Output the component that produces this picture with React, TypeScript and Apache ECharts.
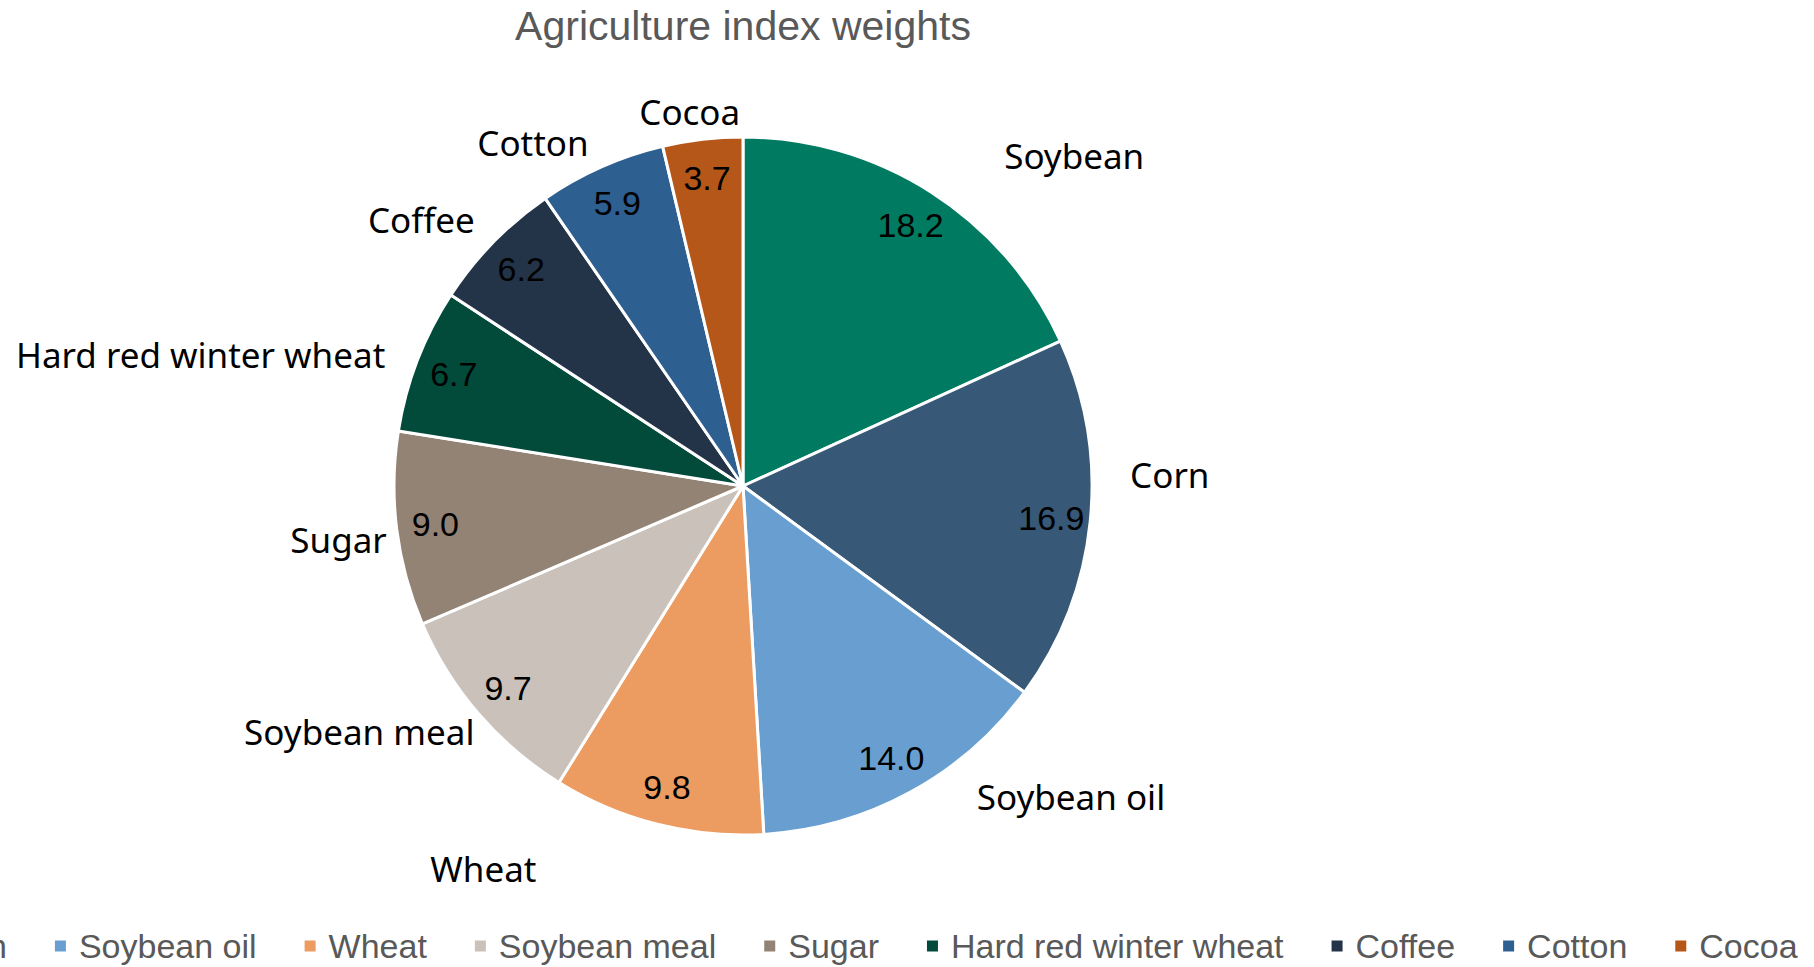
import React, { useEffect, useRef } from "react";
import * as echarts from "echarts";

const TITLE = "Agriculture index weights";
const categories = [
  "Soybean",
  "Corn",
  "Soybean oil",
  "Wheat",
  "Soybean meal",
  "Sugar",
  "Hard red winter wheat",
  "Coffee",
  "Cotton",
  "Cocoa",
];
const weights = [18.2, 16.9, 14.0, 9.8, 9.7, 9.0, 6.7, 6.2, 5.9, 3.7];
const colors = [
  "#007B61",
  "#375876",
  "#699FD0",
  "#EC9B61",
  "#C9C1BA",
  "#938374",
  "#024B3A",
  "#233449",
  "#2E5F91",
  "#B45718",
];
// label nudges (style only) to mimic the spreadsheet's best-fit placement
const nameLabelNudges: [number, number][] = [
  [61, -27],
  [23, -48],
  [56, -6],
  [-113, 33],
  [10, 10],
  [7, 9],
  [-16, -1],
  [-5, -14],
  [-3, -13],
  [44, -16],
];

const CENTER = [743, 486];
const R = 349;

export default function App() {
  const ref = useRef<HTMLDivElement>(null);
  useEffect(() => {
    if (!ref.current) return;
    const chart = echarts.init(ref.current, null, { renderer: "svg" });
    const data = categories.map((name, i) => ({
      name,
      value: weights[i],
      itemStyle: { color: colors[i] },
    }));
    chart.setOption({
      animation: false,
      backgroundColor: "#ffffff",
      title: {
        text: TITLE,
        left: 743,
        top: 5,
        padding: 0,
        textAlign: "center",
        textStyle: {
          fontFamily: "Liberation Sans, Arial, sans-serif",
          fontSize: 41,
          fontWeight: "normal",
          color: "#595959",
        },
      },
      legend: {
        data: categories,
        orient: "horizontal",
        left: -299,
        top: 929,
        width: 2600,
        padding: 0,
        itemWidth: 13,
        itemHeight: 13,
        itemGap: 46,
        icon: "rect",
        selectedMode: false,
        textStyle: {
          fontFamily: "Liberation Sans, Arial, sans-serif",
          fontSize: 34,
          color: "#595959",
          padding: [0, 0, 0, 7],
        },
      },
      series: [
        {
          type: "pie",
          center: CENTER,
          radius: [0, R],
          startAngle: 90,
          clockwise: true,
          avoidLabelOverlap: false,
          itemStyle: { borderColor: "#ffffff", borderWidth: 3 },
          emphasis: { disabled: true },
          label: {
            show: true,
            position: "outside",
            formatter: "{b}",
            fontFamily: "Noto Sans, Open Sans, sans-serif",
            fontSize: 35,
            color: "#000000",
            distanceToLabelLine: 5,
          },
          labelLine: { show: false, length: 12, length2: 0 },
          labelLayout: (params: any) => {
            const n = nameLabelNudges[params.dataIndex] || [0, 0];
            return { dx: n[0], dy: n[1] };
          },
          data,
        },
        {
          type: "pie",
          center: CENTER,
          radius: [265, R],
          startAngle: 90,
          clockwise: true,
          silent: true,
          avoidLabelOverlap: false,
          itemStyle: { color: "rgba(0,0,0,0)", borderWidth: 0 },
          emphasis: { disabled: true },
          label: {
            show: true,
            position: "inside",
            formatter: (p: any) => Number(p.value).toFixed(1),
            fontFamily: "Liberation Sans, Arial, sans-serif",
            fontSize: 34,
            color: "#000000",
          },
          labelLine: { show: false },
          data: categories.map((name, i) => ({ name, value: weights[i] })),
        },
      ],
    });
    return () => chart.dispose();
  }, []);
  return (
    <div
      ref={ref}
      style={{ position: "absolute", left: 0, top: 0, width: 1814, height: 967 }}
    />
  );
}
